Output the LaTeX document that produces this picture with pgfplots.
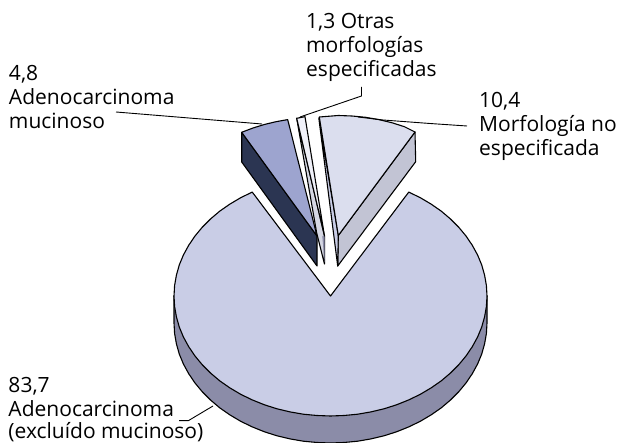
\documentclass[border=0pt]{standalone}
\usepackage{pgfplots}
\usepackage{fontspec}
\setmainfont{Open Sans}
\pgfplotsset{compat=1.18}
\definecolor{bigtop}{HTML}{C9CDE6}
\definecolor{bigside}{HTML}{8B8CA8}
\definecolor{rtop}{HTML}{DBDEEE}
\definecolor{rside}{HTML}{C2C4D4}
\definecolor{btop}{HTML}{9DA4CF}
\definecolor{bside}{HTML}{2B3552}
\definecolor{stop}{HTML}{F0F1F9}
\definecolor{sside}{HTML}{D5D7E3}
\tikzset{lbl/.style={anchor=base west, inner sep=0pt, font=\fontsize{21}{24}\selectfont, text=black}}
\begin{document}
\begin{tikzpicture}
\begin{axis}[
    axis line style={draw=none},
    xtick=\empty, ytick=\empty,
    scale only axis,
    width=630pt,
    height=443pt,
    xmin=0, xmax=630,
    ymin=0, ymax=443,
    y dir=reverse,
    every axis plot/.append style={line width=1.1pt, line join=round},
    clip=true,
]
% big slice 83,7 wall
\addplot[fill=bigside, draw=black] coordinates {
 (487,296) (487,323) (486.4,333.5) (484.6,343.8) (481.7,354.1) (477.6,364) (472.3,373.7) (466,383)
 (458.7,391.8) (450.4,400.1) (441.2,407.9) (431.1,414.9) (420.3,421.3) (408.75,426.9) (396.6,431.8)
 (384,435.8) (371,438.9) (357.7,441.2) (344.1,442.5) (330.5,443) (316.9,442.5) (303.3,441.2) (290,438.9)
 (277,435.8) (264.4,431.8) (252.25,426.9) (240.7,421.3) (229.9,414.9) (219.8,407.9) (210.6,400.1)
 (202.3,391.8) (195,383) (188.7,373.7) (183.4,364) (179.3,354.1) (176.4,343.8) (174.6,333.5) (174,323) (174,296)
} --cycle;
% big slice top
\addplot[fill=bigtop, draw=black] coordinates {
 (330.5,296) (408.75,192.1) (420.3,197.7) (431.1,204.1) (441.2,211.1) (450.4,218.9) (458.7,227.2) (466,236)
 (472.3,245.3) (477.6,255) (481.7,264.9) (484.6,275.2) (486.4,285.5) (487,296) (486.4,306.5) (484.6,316.8)
 (481.7,327.1) (477.6,337) (472.3,346.7) (466,356) (458.7,364.8) (450.4,373.1) (441.2,380.9) (431.1,387.9)
 (420.3,394.3) (408.75,399.9) (396.6,404.8) (384,408.8) (371,411.9) (357.7,414.2) (344.1,415.5) (330.5,416)
 (316.9,415.5) (303.3,414.2) (290,411.9) (277,408.8) (264.4,404.8) (252.25,399.9) (240.7,394.3) (229.9,387.9)
 (219.8,380.9) (210.6,373.1) (202.3,364.8) (195,356) (188.7,346.7) (183.4,337) (179.3,327.1) (176.4,316.8)
 (174.6,306.5) (174,296) (174.6,285.5) (176.4,275.2) (179.3,264.9) (183.4,255) (188.7,245.3) (195,236)
 (202.3,227.2) (210.6,218.9) (219.8,211.1) (229.9,204.1) (240.7,197.7) (252.25,192.1)
} --cycle;
% adenocarcinoma mucinoso 4,8
\addplot[fill=bside, draw=black] coordinates {(241.7,132.3) (317,236) (317,266) (241.7,162)} --cycle;
\addplot[fill=btop, draw=black] coordinates {(241.7,132.3) (253,128) (264.7,124.4) (276,121.7) (287.7,119.6) (317,236)} --cycle;
% otras morfologias 1,3
\addplot[fill=sside, draw=black] coordinates {(296.7,118.3) (316.7,233) (324.5,264) (324.5,236)} --cycle;
\addplot[fill=bigside, draw=none] coordinates {(322.3,236) (324.5,236) (324.5,262)} --cycle;
\addplot[fill=stop, draw=black] coordinates {(296.7,118.3) (305,116.7) (324.5,236)} --cycle;
% morfologia no especificada 10,4
\addplot[fill=rside, draw=black] coordinates {(415,132) (415.7,161.7) (337.7,266) (338.3,235.5)} --cycle;
\addplot[fill=bigtop, draw=black] coordinates {(318.8,118) (338.3,235.5) (337.7,266)} --cycle;
\addplot[fill=rtop, draw=black] coordinates {(319.3,117) (338.3,115.5) (351.9,116) (365.5,117.3) (378.8,119.6) (391.8,122.7) (404.4,126.7) (415,132) (338.3,235.5)} --cycle;
% leaders
\addplot[draw=black, line width=0.9pt] coordinates {(116,112) (262,124)};
\addplot[draw=black, line width=0.9pt] coordinates {(361.5,87) (361.5,96) (300,117)};
\addplot[draw=black, line width=0.9pt] coordinates {(358,117) (383,120) (430,123.5) (467,126)};
\addplot[draw=black, line width=0.9pt] coordinates {(179,420.7) (188.3,420.7) (213,406)};
% labels
\node[lbl] at (axis cs:306,29) {1,3 Otras};
\node[lbl] at (axis cs:306,52.7) {morfologías};
\node[lbl] at (axis cs:306,76.7) {especificadas};
\node[lbl] at (axis cs:8.8,81) {4,8};
\node[lbl] at (axis cs:8.8,105) {Adenocarcinoma};
\node[lbl] at (axis cs:8.8,129) {mucinoso};
\node[lbl] at (axis cs:479,108) {10,4};
\node[lbl] at (axis cs:479,131.7) {Morfología no};
\node[lbl] at (axis cs:479,155.7) {especificada};
\node[lbl] at (axis cs:8.3,392.7) {83,7};
\node[lbl] at (axis cs:8.3,416.7) {Adenocarcinoma};
\node[lbl] at (axis cs:8.3,438.5) {(excluído mucinoso)};
\end{axis}
\end{tikzpicture}
\end{document}
